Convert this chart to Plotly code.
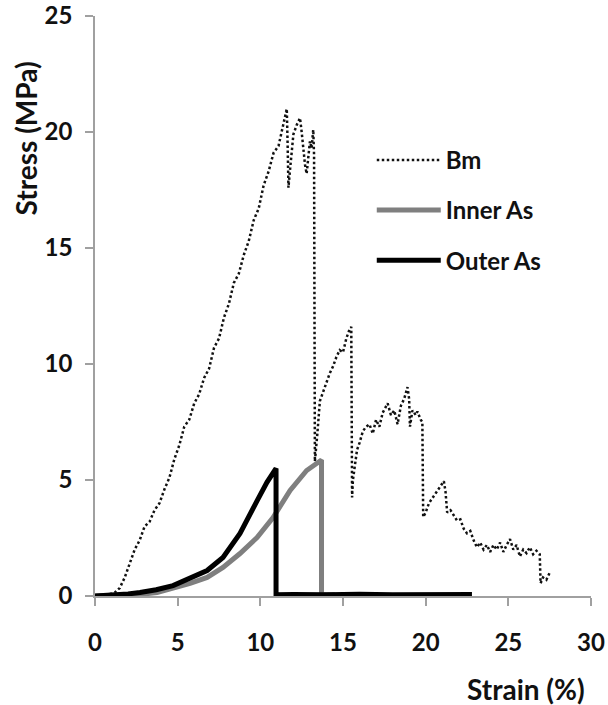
import plotly.graph_objects as go

# ---------------- data ----------------
bm_strain = [0.0, 0.3, 0.6, 0.9, 1.2, 1.5, 1.8, 2.1, 2.4, 2.7, 3.0, 3.3, 3.6, 3.9, 4.2, 4.5,
             4.8, 5.1, 5.4, 5.7, 6.0, 6.3, 6.6, 6.9, 7.2, 7.5, 7.8, 8.1, 8.4, 8.7, 9.0, 9.3,
             9.6, 9.9, 10.2, 10.5, 10.8, 11.1, 11.4, 11.6,
             11.65, 11.7, 11.8, 11.9, 12.0, 12.2, 12.4, 12.5, 12.6, 12.7, 12.8, 12.9, 13.0,
             13.1, 13.2, 13.25, 13.3, 13.3,
             13.45, 13.6, 13.8, 14.0, 14.2, 14.4, 14.6, 14.8, 15.0, 15.2, 15.4, 15.5, 15.55,
             15.6, 15.85, 16.0, 16.2, 16.4, 16.6, 16.8, 17.0, 17.2, 17.4, 17.7, 17.9, 18.1,
             18.3, 18.5, 18.7, 18.9, 19.0, 19.05, 19.2, 19.4, 19.5, 19.7, 19.8, 19.85,
             20.0, 20.2, 20.4, 20.6, 20.8, 21.0, 21.1, 21.2, 21.3, 21.5, 21.7, 21.9, 22.1,
             22.3, 22.5, 22.7, 22.9, 23.1, 23.3, 23.5, 23.7, 23.9, 24.1, 24.3, 24.5, 24.7,
             24.9, 25.1, 25.3, 25.5, 25.7, 25.9, 26.1, 26.3, 26.5, 26.7, 26.9, 26.95, 27.1,
             27.3, 27.5]
bm_stress = [0.0, 0.05, 0.02, 0.1, 0.15, 0.35, 0.8, 1.4, 2.0, 2.4, 3.0, 3.2, 3.7, 4.0, 4.6, 5.1,
             5.9, 6.5, 7.3, 7.6, 8.3, 8.7, 9.4, 9.8, 10.7, 11.1, 12.0, 12.6, 13.5, 13.9, 14.7, 15.3,
             16.2, 16.7, 17.7, 18.3, 19.1, 19.4, 20.4, 21.0,
             19.5, 17.6, 18.4, 19.2, 19.9, 20.3, 20.6, 20.0, 19.1, 18.6, 18.2, 19.0, 19.6,
             19.3, 20.1, 19.0, 12.0, 5.8,
             7.0, 8.4, 8.8, 9.2, 9.6, 9.9, 10.3, 10.6, 10.5, 11.1, 11.5, 11.6, 4.25,
             5.0, 6.3, 6.6, 7.1, 7.3, 7.4, 7.0, 7.6, 7.3, 7.9, 8.3, 7.8, 8.0,
             7.4, 8.2, 8.5, 9.0, 8.5, 7.3, 8.0, 7.8, 7.95, 7.6, 7.5, 3.4,
             3.6, 4.0, 4.2, 4.4, 4.6, 4.8, 4.95, 4.5, 3.6, 3.7, 3.5, 3.25, 3.3,
             2.9, 2.7, 2.8, 2.4, 2.1, 2.3, 2.0, 2.2, 1.9, 2.2, 2.0, 2.3, 1.9,
             2.2, 2.45, 2.0, 2.2, 1.7, 2.0, 1.85, 2.1, 1.8, 1.95, 1.8, 0.55, 0.8,
             0.7, 1.0]

inner_strain = [0.0, 1.0, 2.0, 3.0, 3.75, 4.72, 5.75, 6.78, 7.74, 8.77, 9.8, 10.77, 11.8,
                12.8, 13.3, 13.6, 13.7, 13.7, 14.5]
inner_stress = [0.0, 0.02, 0.05, 0.09, 0.15, 0.32, 0.54, 0.8, 1.23, 1.83, 2.52, 3.38, 4.55,
                5.41, 5.65, 5.84, 5.86, 0.05, 0.05]

outer_strain = [0.0, 1.0, 2.0, 2.72, 3.7, 4.72, 5.75, 6.78, 7.74, 8.77, 9.8, 10.4, 10.9,
                10.95, 10.95, 12.0, 14.0, 16.0, 18.0, 20.0, 22.0, 22.8]
outer_stress = [0.0, 0.03, 0.09, 0.15, 0.27, 0.45, 0.75, 1.1, 1.66, 2.7, 4.1, 4.9, 5.45,
                5.5, 0.05, 0.07, 0.05, 0.08, 0.05, 0.07, 0.05, 0.06]

series_names = ["Bm", "Inner As", "Outer As"]
x_ticks = [0, 5, 10, 15, 20, 25, 30]
y_ticks = [0, 5, 10, 15, 20, 25]

FONT = "Lato"

fig = go.Figure()
fig.add_trace(go.Scatter(x=bm_strain, y=bm_stress, mode="lines", name=series_names[0],
                         legendgroup="a",
                         line=dict(color="#111111", width=2.5, dash="2.5px,2.5px")))
fig.add_trace(go.Scatter(x=inner_strain, y=inner_stress, mode="lines", name=series_names[1],
                         legendgroup="b",
                         line=dict(color="#7f7f7f", width=5)))
fig.add_trace(go.Scatter(x=outer_strain, y=outer_stress, mode="lines", name=series_names[2],
                         legendgroup="c",
                         line=dict(color="#000000", width=5)))

axis_common = dict(showgrid=False, zeroline=False, showline=True, linecolor="#a0a0a0",
                   linewidth=1.5, ticks="outside", ticklen=8, tickcolor="#a0a0a0",
                   tickwidth=1.5, automargin=False,
                   tickfont=dict(family=FONT, size=24, color="#111111", weight="bold"))

fig.update_xaxes(range=[0, 30], tickvals=x_ticks, ticklabelstandoff=16, **axis_common)
fig.update_yaxes(range=[0, 25], tickvals=y_ticks, ticklabelstandoff=8, **axis_common)

fig.update_layout(
    width=608, height=705,
    margin=dict(l=95, r=17, t=16, b=109),
    plot_bgcolor="white", paper_bgcolor="white",
    showlegend=True,
    legend=dict(x=0.558, y=0.79, xanchor="left", yanchor="top",
                font=dict(family=FONT, size=24, color="#111111", weight="bold"),
                itemwidth=64, tracegroupgap=16, traceorder="grouped",
                bgcolor="rgba(0,0,0,0)"),
    annotations=[
        dict(text="Strain (%)", xref="paper", yref="paper", x=0.992, y=-0.1595,
             xanchor="right", yanchor="middle", showarrow=False,
             font=dict(family=FONT, size=28, color="#111111", weight="bold")),
        dict(text="Stress (MPa)", xref="paper", yref="paper", x=-0.139, y=0.789,
             xanchor="center", yanchor="middle", textangle=-90, showarrow=False,
             font=dict(family=FONT, size=28, color="#111111", weight="bold")),
    ],
)

fig.write_html("out.html", config={"displayModeBar": False},
               post_script="document.body.style.margin='0';document.body.style.overflow='hidden';")
